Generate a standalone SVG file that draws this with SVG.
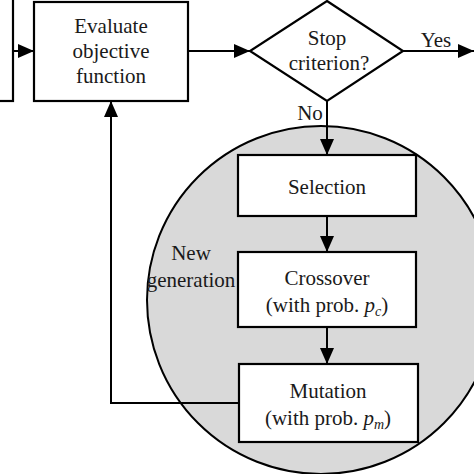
<svg xmlns="http://www.w3.org/2000/svg" width="474" height="474" viewBox="0 0 474 474">
<style>
.box{fill:#fff;stroke:#000;stroke-width:2.2}
.ln{fill:none;stroke:#000;stroke-width:2}
text{font-family:"Liberation Serif","Times New Roman",serif;font-size:21px;fill:#1a1a1a;text-anchor:middle}
.it{font-style:italic}
.sub{font-size:14px;font-style:italic}
</style>
<defs>
<marker id="ah" viewBox="0 0 16 14" refX="16" refY="7" markerWidth="16" markerHeight="14" markerUnits="userSpaceOnUse" orient="auto">
<path d="M0,0 L16,7 L0,14 Z" fill="#000"/>
</marker>
</defs>
<rect width="474" height="474" fill="#fff"/>
<g id="generation-circle">
<circle cx="321" cy="300" r="174" fill="#d9d9d9" stroke="#000" stroke-width="2"/>
<text x="191" y="260" font-size="20">New</text>
<text x="191" y="287" font-size="20">generation</text>
</g>
<g id="connectors">
<line class="ln" x1="13" y1="51" x2="34" y2="51" marker-end="url(#ah)"/>
<line class="ln" x1="188" y1="51" x2="250" y2="51" marker-end="url(#ah)"/>
<line class="ln" x1="403" y1="51" x2="474" y2="51" marker-end="url(#ah)"/>
<line class="ln" x1="327" y1="101" x2="327" y2="155" marker-end="url(#ah)"/>
<line class="ln" x1="327" y1="216" x2="327" y2="252" marker-end="url(#ah)"/>
<line class="ln" x1="327" y1="327" x2="327" y2="364" marker-end="url(#ah)"/>
<polyline class="ln" points="239,403 111,403 111,101" marker-end="url(#ah)"/>
<text x="436" y="47" font-size="19">Yes</text>
<text x="310" y="120" font-size="19">No</text>
</g>
<g id="init">
<rect class="box" x="-10" y="-10" width="23" height="111"/>
</g>
<g id="evaluate">
<rect class="box" x="34" y="2" width="154" height="99"/>
<text x="111" y="33">Evaluate</text>
<text x="111" y="58">objective</text>
<text x="111" y="83">function</text>
</g>
<g id="stop">
<polygon class="box" points="327,1 403,51 327,101 250,51"/>
<text x="327" y="45">Stop</text>
<text x="329" y="70">criterion?</text>
</g>
<g id="selection">
<rect class="box" x="238" y="155" width="178" height="61"/>
<text x="327" y="194">Selection</text>
</g>
<g id="crossover">
<rect class="box" x="238" y="252" width="178" height="75"/>
<text x="327" y="285">Crossover</text>
<text x="327" y="312">(with prob. <tspan class="it">p</tspan><tspan class="sub" dy="4">c</tspan><tspan dy="-4">)</tspan></text>
</g>
<g id="mutation">
<rect class="box" x="239" y="364" width="179" height="78"/>
<text x="328" y="398">Mutation</text>
<text x="328" y="425">(with prob. <tspan class="it">p</tspan><tspan class="sub" dy="4">m</tspan><tspan dy="-4">)</tspan></text>
</g>
</svg>
